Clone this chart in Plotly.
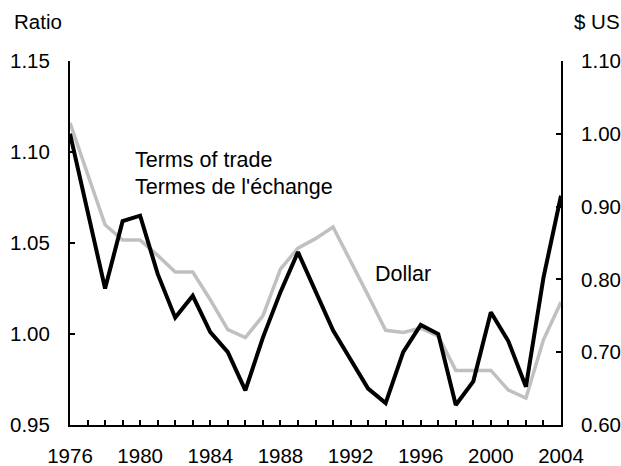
import plotly.graph_objects as go

years = list(range(1976, 2005))
terms_of_trade = [1.110, 1.068, 1.025, 1.062, 1.065, 1.033, 1.009, 1.021, 1.001, 0.990,
                  0.969, 0.998, 1.023, 1.045, 1.024, 1.002, 0.986, 0.970, 0.962, 0.990,
                  1.005, 1.000, 0.961, 0.974, 1.012, 0.996, 0.971, 1.031, 1.076]
dollar = [1.015, 0.945, 0.875, 0.854, 0.854, 0.833, 0.810, 0.810, 0.772, 0.731,
          0.720, 0.750, 0.814, 0.843, 0.856, 0.872, 0.826, 0.778, 0.730, 0.727,
          0.733, 0.722, 0.675, 0.675, 0.675, 0.648, 0.637, 0.717, 0.769]
x_tick_labels = [1976, 1980, 1984, 1988, 1992, 1996, 2000, 2004]

FONT = "Liberation Sans, Arial, sans-serif"
FS_TICK = 20.5
FS_NOTE = 21.5

fig = go.Figure()
# Dollar on yaxis (right side), drawn underneath
fig.add_trace(go.Scatter(x=years, y=dollar, mode="lines", yaxis="y",
                         line=dict(color="#c0c0c0", width=3.5), showlegend=False))
# Terms of trade on yaxis2 (left side), drawn on top
fig.add_trace(go.Scatter(x=years, y=terms_of_trade, mode="lines", yaxis="y2",
                         line=dict(color="#000000", width=4), showlegend=False))

fig.update_layout(
    width=621, height=466,
    margin=dict(l=70, r=60, t=61, b=41),
    paper_bgcolor="white", plot_bgcolor="white",
    font=dict(family=FONT, size=FS_TICK, color="black"),
    xaxis=dict(range=[1976, 2004], tickvals=x_tick_labels, ticktext=[str(v) for v in x_tick_labels],
               showline=True, linecolor="black", linewidth=2, ticks="inside", ticklen=5,
               tickwidth=1.5, tickcolor="black", showgrid=False, zeroline=False,
               ticklabelstandoff=11, automargin=False,
               minor=dict(dtick=1, tick0=1976, ticks="inside", ticklen=5, tickwidth=1.5,
                          tickcolor="black", showgrid=False)),
    yaxis=dict(range=[0.60, 1.10], dtick=0.1, tick0=0.6, tickformat=".2f", side="right",
               showline=True, linecolor="black", linewidth=2, ticks="inside", ticklen=5,
               tickwidth=1.5, tickcolor="black", showgrid=False, zeroline=False,
               ticklabelstandoff=14, automargin=False),
    yaxis2=dict(range=[0.95, 1.15], dtick=0.05, tick0=0.95, tickformat=".2f", side="left",
                overlaying="y", showline=True, linecolor="black", linewidth=2, ticks="inside",
                ticklen=5, tickwidth=1.5, tickcolor="black", showgrid=False, zeroline=False,
                ticklabelstandoff=14, automargin=False),
    annotations=[
        dict(text="Ratio", xref="paper", yref="paper", x=-0.118, y=1.1085,
             xanchor="left", yanchor="middle", showarrow=False, font=dict(size=FS_TICK)),
        dict(text="$ US", xref="paper", yref="paper", x=1.0218, y=1.1085,
             xanchor="left", yanchor="middle", showarrow=False, font=dict(size=FS_TICK)),
        dict(text="Terms of trade", xref="paper", yref="paper", x=0.128, y=0.728,
             xanchor="left", yanchor="middle", showarrow=False, font=dict(size=FS_NOTE)),
        dict(text="Termes de l'échange", xref="paper", yref="paper", x=0.128, y=0.654,
             xanchor="left", yanchor="middle", showarrow=False, font=dict(size=FS_NOTE)),
        dict(text="Dollar", xref="paper", yref="paper", x=0.617, y=0.4135,
             xanchor="left", yanchor="middle", showarrow=False, font=dict(size=FS_NOTE)),
    ],
)

fig.write_html("out.html", config={"displayModeBar": False},
               post_script="document.body.style.margin='0px';document.body.style.overflow='hidden';")
